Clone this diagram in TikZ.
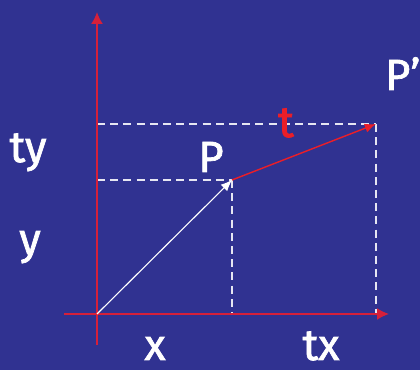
\documentclass[tikz,border=0pt]{standalone}
\usepackage{fontspec}
\setmainfont{Fira Sans}
\newfontfamily\lblfont[FakeBold=1.6]{Fira Sans}
\usepackage{tikz}
\usetikzlibrary{arrows.meta,positioning,calc}

\definecolor{slidebg}{RGB}{48,50,145}
\definecolor{axisred}{RGB}{214,32,58}
\definecolor{vecred}{RGB}{235,30,40}

\begin{document}
\begin{tikzpicture}[
    >=Latex,
    axis/.style={
        draw=axisred,
        line width=1.2pt,
        -{Latex[length=3mm,width=3mm]}
    },
    whitevec/.style={
        draw=white,
        line width=0.8pt,
        -{Latex[length=2.8mm,width=2.3mm]}
    },
    redvec/.style={
        draw=vecred,
        line width=1pt,
        -{Latex[length=2.8mm,width=2.3mm]}
    },
    guide/.style={
        draw=white!88!slidebg,
        line width=1pt,
        dash pattern=on 2mm off 1.3mm
    },
    lbl/.style={
        anchor=base,
        inner sep=0pt,
        text=white,
        font=\fontsize{31}{36}\lblfont
    }
]

% ============================================================
% Background
% ============================================================

\fill[slidebg] (0,0) rectangle (10.5,9.25);
\useasboundingbox (0,0) rectangle (10.5,9.25);

% ============================================================
% Points
% ============================================================

\coordinate (O)     at (2.425,1.40);
\coordinate (ybot)  at (2.425,0.625);
\coordinate (ytop)  at (2.425,8.95);
\coordinate (xleft) at (1.60,1.40);
\coordinate (xright) at (9.725,1.40);

\coordinate (P)  at (5.80,4.75);
\coordinate (Pp) at (9.40,6.15);

% Projections onto the axes
\coordinate (Py)  at (O |- P);
\coordinate (Px)  at (P |- O);
\coordinate (Ppy) at (O |- Pp);
\coordinate (Ppx) at (Pp |- O);

% ============================================================
% Dashed guides
% ============================================================

\draw[guide] (Py) -- (P);
\draw[guide] (P) -- (Px);
\draw[guide] (Ppy) -- (Pp);
\draw[guide] (Pp) -- (Ppx);

% ============================================================
% Axes
% ============================================================

\draw[axis] (ybot) -- (ytop);
\draw[axis] (xleft) -- (xright);

% ============================================================
% Vectors
% ============================================================

\draw[whitevec] (O) -- (P);
\draw[redvec] (P) -- (Pp);

% ============================================================
% Labels
% ============================================================

\node[lbl] (labP)  at (5.275,4.95) {P};
\node[lbl, anchor=base west] (labPp) at (9.62,7.00) {P’};
\node[lbl, text=vecred] (labt) at (7.15,5.825) {t};

\node[lbl] (labty) at (0.70,5.20) {ty};
\node[lbl] (laby)  at (0.75,2.90) {y};

\node[lbl] (labx)  at (3.875,0.25) {x};
\node[lbl] (labtx) at (8.025,0.25) {tx};

\end{tikzpicture}
\end{document}
